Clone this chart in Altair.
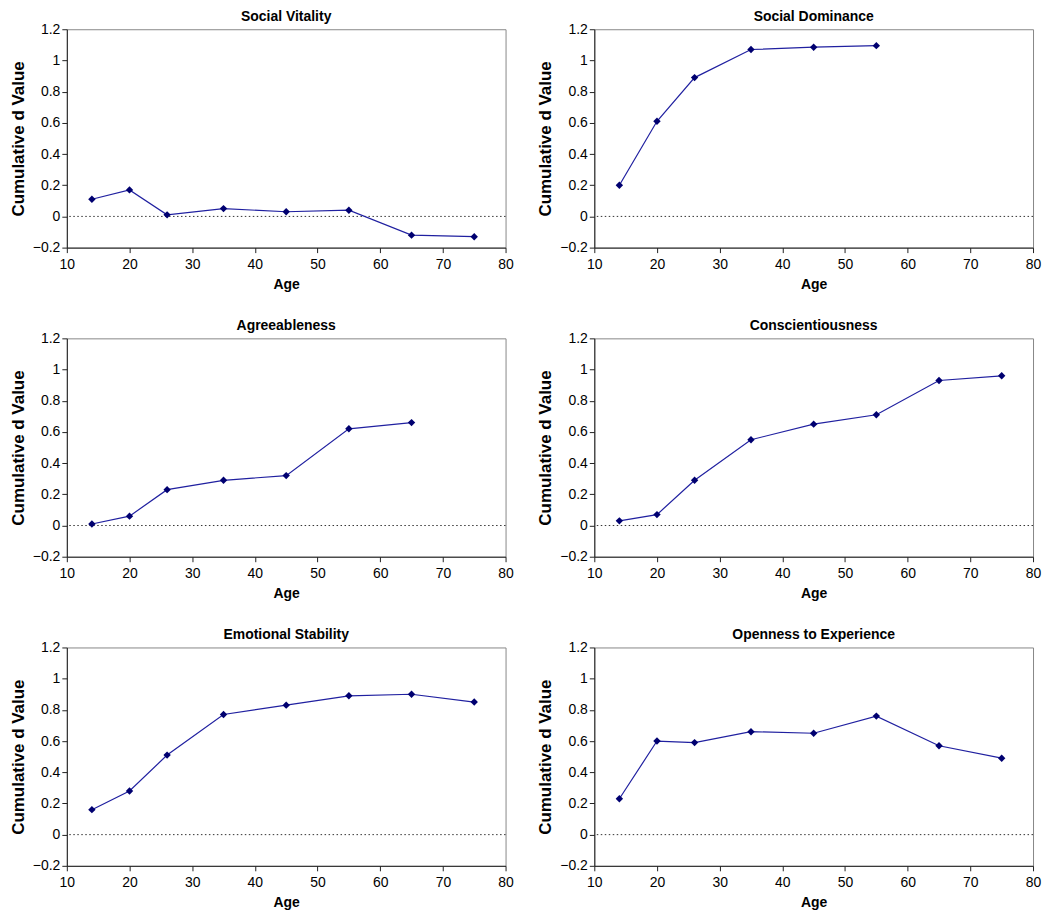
import altair as alt
import pandas as pd

ages = [14, 20, 26, 35, 45, 55, 65, 75]

panel_titles = [
    "Social Vitality",
    "Social Dominance",
    "Agreeableness",
    "Conscientiousness",
    "Emotional Stability",
    "Openness to Experience",
]

social_vitality = [0.11, 0.17, 0.01, 0.05, 0.03, 0.04, -0.12, -0.13]
social_dominance = [0.20, 0.61, 0.89, 1.07, 1.085, 1.095]
agreeableness = [0.01, 0.06, 0.23, 0.29, 0.32, 0.62, 0.66]
conscientiousness = [0.03, 0.07, 0.29, 0.55, 0.65, 0.71, 0.93, 0.96]
emotional_stability = [0.16, 0.28, 0.51, 0.77, 0.83, 0.89, 0.90, 0.85]
openness = [0.23, 0.60, 0.59, 0.66, 0.65, 0.76, 0.57, 0.49]

series = [social_vitality, social_dominance, agreeableness,
          conscientiousness, emotional_stability, openness]

y_ticks = [-0.2, 0, 0.2, 0.4, 0.6, 0.8, 1.0, 1.2]
x_ticks = [10, 20, 30, 40, 50, 60, 70, 80]

FONT = "Liberation Sans"
xscale = alt.Scale(domain=[10, 80], nice=False, zero=False)
yscale = alt.Scale(domain=[-0.2, 1.2], nice=False, zero=False)


def y_axis():
    return alt.Axis(values=y_ticks, format=".1~f", labelFlush=False)


def panel(title, values):
    df = pd.DataFrame({"Age": ages[: len(values)], "d": values})
    zero = alt.Chart(pd.DataFrame({"d": [0]})).mark_rule(
        color="#333333", strokeDash=[1.5, 2.5], strokeWidth=1
    ).encode(y=alt.Y("d:Q", scale=yscale, title="Cumulative d Value", axis=y_axis()))
    x = alt.X("Age:Q", scale=xscale, title="Age",
              axis=alt.Axis(values=x_ticks, format="d", labelFlush=False))
    y = alt.Y("d:Q", scale=yscale, title="Cumulative d Value", axis=y_axis())
    line = alt.Chart(df).mark_line(color="#2020a0", strokeWidth=1.2).encode(x=x, y=y)
    pts = alt.Chart(df).mark_point(
        shape="diamond", filled=True, size=55, color="#000070", opacity=1
    ).encode(x=x, y=y)
    return alt.layer(zero, line, pts).properties(
        width=440, height=219,
        title=alt.TitleParams(title, font=FONT, fontSize=14, fontWeight="bold",
                              anchor="middle", offset=-2, color="black"),
    )


panels = [panel(t, v) for t, v in zip(panel_titles, series)]
rows = [alt.hconcat(panels[i], panels[i + 1], spacing=21) for i in (0, 2, 4)]
chart = alt.vconcat(*rows, spacing=26).properties(
    padding={"left": 0, "top": 0, "right": 0, "bottom": 0}
).configure_view(
    stroke="#888888", strokeWidth=1
).configure_axis(
    grid=False,
    domainColor="#222222",
    tickColor="#222222",
    tickSize=5,
    labelFont=FONT,
    labelFontSize=14,
    labelColor="black",
    titleFont=FONT,
    titleFontWeight="bold",
    titleColor="black",
).configure_axisX(
    labelPadding=5, titlePadding=6, titleFontSize=14
).configure_axisY(
    labelPadding=2, titlePadding=5, titleFontSize=17
)

chart.save("out.html", embed_options={"renderer": "svg", "actions": False})
